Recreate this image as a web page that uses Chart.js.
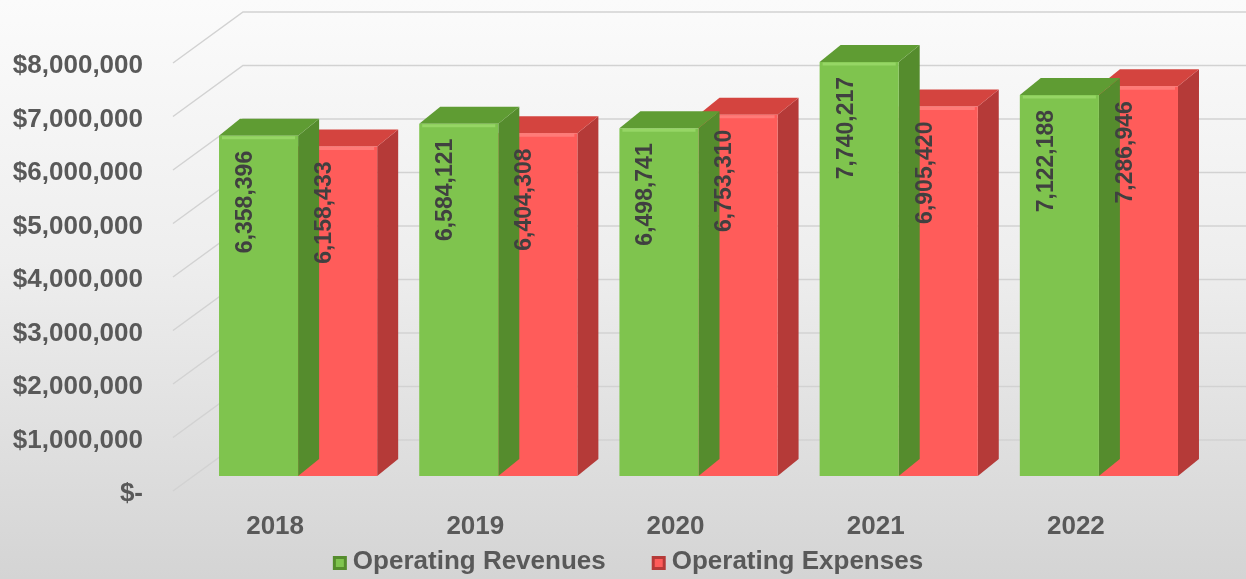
<!DOCTYPE html>
<html>
<head>
<meta charset="utf-8">
<script src="https://cdn.jsdelivr.net/npm/chart.js@4.4.1/dist/chart.umd.min.js"></script>
<style>
  html, body { margin: 0; padding: 0; }
  body {
    width: 1246px; height: 579px; overflow: hidden;
    background: linear-gradient(to bottom, #fbfbfb 0%, #eeeeee 45%, #d4d4d4 100%);
  }
  #wrap { width: 1246px; height: 579px; position: relative; }
</style>
</head>
<body>
<div id="wrap"><canvas id="chart" width="1246" height="579"></canvas></div>
<script>
const years = ['2018', '2019', '2020', '2021', '2022'];
const revenues = [6358396, 6584121, 6498741, 7740217, 7122188];
const expenses = [6158433, 6404308, 6753310, 6905420, 7286946];
const yTicks = [0, 1000000, 2000000, 3000000, 4000000, 5000000, 6000000, 7000000, 8000000];

const FONT = "'Liberation Sans', Arial, sans-serif";
const TEXT = '#595959';

Chart.defaults.font.family = FONT;
Chart.defaults.font.weight = 'bold';
Chart.defaults.font.size = 26;
Chart.defaults.color = TEXT;

// face colours for the fake 3D bars
const faces = [
  { front: '#7fc44e', top: '#5f9c33', side: '#558c2d', hi: 'rgba(170,230,120,0.55)' },
  { front: '#ff5c5a', top: '#d4443f', side: '#b53a38', hi: 'rgba(255,150,145,0.55)' },
];
const DX = 21, DY = 17;

const fmt = (v) => v.toLocaleString('en-US');

// back wall + side wall grid, drawn behind the bars
const wallGrid = {
  id: 'wallGrid',
  beforeDatasetsDraw(chart) {
    const { ctx, scales: { y }, chartArea, width } = chart;
    ctx.save();
    ctx.strokeStyle = '#d2d2d2';
    ctx.lineWidth = 1.5;
    const x0 = chartArea.left - 25;
    const x1 = chartArea.left + 45;
    yTicks.forEach((v) => {
      const py = y.getPixelForValue(v);
      ctx.beginPath();
      ctx.moveTo(x0, py + 15);
      ctx.lineTo(x1, py - 36);
      ctx.lineTo(width, py - 36);
      ctx.stroke();
    });
    ctx.restore();
  },
};

// top and side faces before each dataset's fronts, a bevel highlight after
const bars3d = {
  id: 'bars3d',
  beforeDatasetDraw(chart, args) {
    const { ctx } = chart;
    const c = faces[args.index];
    const meta = chart.getDatasetMeta(args.index);
    ctx.save();
    meta.data.forEach((bar) => {
      const { x, y, base, width } = bar.getProps(['x', 'y', 'base', 'width'], true);
      const l = x - width / 2, r = x + width / 2;
      // side
      ctx.fillStyle = c.side;
      ctx.beginPath();
      ctx.moveTo(r, y);
      ctx.lineTo(r + DX, y - DY);
      ctx.lineTo(r + DX, base - DY);
      ctx.lineTo(r, base);
      ctx.closePath();
      ctx.fill();
      // top
      ctx.fillStyle = c.top;
      ctx.beginPath();
      ctx.moveTo(l, y);
      ctx.lineTo(l + DX, y - DY);
      ctx.lineTo(r + DX, y - DY);
      ctx.lineTo(r, y);
      ctx.closePath();
      ctx.fill();
    });
    ctx.restore();
  },
  afterDatasetDraw(chart, args) {
    const { ctx } = chart;
    const c = faces[args.index];
    ctx.save();
    ctx.strokeStyle = c.hi;
    ctx.lineWidth = 3;
    chart.getDatasetMeta(args.index).data.forEach((bar) => {
      const { x, y, width } = bar.getProps(['x', 'y', 'width'], true);
      ctx.beginPath();
      ctx.moveTo(x - width / 2 + 3, y + 2);
      ctx.lineTo(x + width / 2 - 3, y + 2);
      ctx.stroke();
    });
    ctx.restore();
  },
};

// rotated value labels inside the top of each bar
const valueLabels = {
  id: 'valueLabels',
  afterDatasetsDraw(chart) {
    const { ctx } = chart;
    ctx.save();
    ctx.font = 'bold 23px ' + FONT;
    ctx.fillStyle = '#404040';
    ctx.textAlign = 'right';
    ctx.textBaseline = 'middle';
    chart.data.datasets.forEach((ds, i) => {
      chart.getDatasetMeta(i).data.forEach((bar, j) => {
        const { x, y } = bar.getProps(['x', 'y'], true);
        ctx.save();
        ctx.translate(x - 13, y + 15);
        ctx.rotate(-Math.PI / 2);
        ctx.fillText(fmt(ds.data[j]), 0, 0);
        ctx.restore();
      });
    });
    ctx.restore();
  },
};

// legend under the axis labels, spaced like the original
const bottomLegend = {
  id: 'bottomLegend',
  afterDraw(chart) {
    const { ctx } = chart;
    const box = 14, gap = 6, between = 46, cy = 562;
    ctx.save();
    ctx.font = 'bold 26px ' + FONT;
    ctx.textBaseline = 'middle';
    const items = chart.data.datasets.map((ds, i) => ({
      text: ds.label, c: faces[i], w: ctx.measureText(ds.label).width,
    }));
    const total = items.reduce((s, it) => s + box + gap + it.w, 0) + between * (items.length - 1);
    let x = 628 - total / 2;
    items.forEach((it) => {
      ctx.fillStyle = it.c.side;
      ctx.fillRect(x, cy - box / 2 + 1, box, box);
      ctx.fillStyle = it.c.front;
      ctx.fillRect(x + 3, cy - box / 2 + 4, box - 6, box - 6);
      ctx.fillStyle = TEXT;
      ctx.fillText(it.text, x + box + gap, cy);
      x += box + gap + it.w + between;
    });
    ctx.restore();
  },
};

new Chart(document.getElementById('chart'), {
  type: 'bar',
  data: {
    labels: years,
    datasets: [
      {
        label: 'Operating Revenues',
        data: revenues,
        backgroundColor: faces[0].front,
        borderWidth: 0,
      },
      {
        label: 'Operating Expenses',
        data: expenses,
        backgroundColor: faces[1].front,
        borderWidth: 0,
      },
    ],
  },
  options: {
    responsive: false,
    animation: false,
    events: [],
    layout: { padding: { left: 10, right: 47, top: 48, bottom: 35 } },
    datasets: {
      bar: { categoryPercentage: 0.79, barPercentage: 1 },
    },
    scales: {
      x: {
        grid: { display: false, drawTicks: false },
        border: { display: false },
        ticks: {
          padding: 35,
          labelOffset: -23,
          maxRotation: 0,
          autoSkip: false,
        },
        afterFit: (s) => { s.height = 68; s.paddingLeft = 0; s.paddingRight = 0; },
      },
      y: {
        min: 0,
        max: 8000000,
        grid: { display: false, drawTicks: false },
        border: { display: false },
        afterBuildTicks: (s) => { s.ticks = yTicks.map((v) => ({ value: v })); },
        afterFit: (s) => { s.width = 188; s.paddingTop = 0; s.paddingBottom = 0; },
        ticks: {
          padding: 55,
          labelOffset: 18,
          callback: (v) => (v === 0 ? '$-' : '$' + fmt(v)),
        },
      },
    },
    plugins: {
      legend: { display: false },
      tooltip: { enabled: false },
    },
  },
  plugins: [wallGrid, bars3d, valueLabels, bottomLegend],
});
</script>
</body>
</html>
